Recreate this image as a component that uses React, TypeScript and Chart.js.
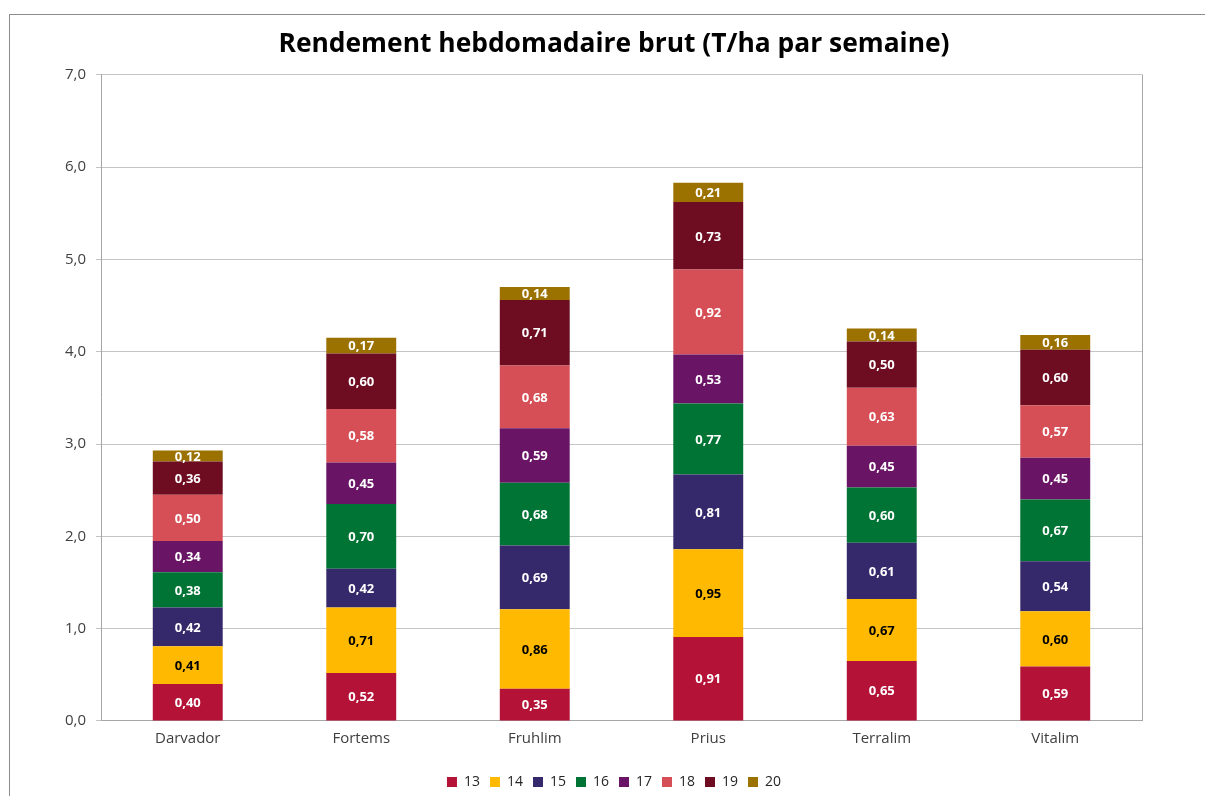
import React, { useEffect, useRef } from "react";
import { Chart, registerables } from "chart.js";

Chart.register(...registerables);

const varieties = ["Darvador", "Fortems", "Fruhlim", "Prius", "Terralim", "Vitalim"];
const weeks = ["13", "14", "15", "16", "17", "18", "19", "20"];

const week13 = [0.40, 0.52, 0.35, 0.91, 0.65, 0.59];
const week14 = [0.41, 0.71, 0.86, 0.95, 0.67, 0.60];
const week15 = [0.42, 0.42, 0.69, 0.81, 0.61, 0.54];
const week16 = [0.38, 0.70, 0.68, 0.77, 0.60, 0.67];
const week17 = [0.34, 0.45, 0.59, 0.53, 0.45, 0.45];
const week18 = [0.50, 0.58, 0.68, 0.92, 0.63, 0.57];
const week19 = [0.36, 0.60, 0.71, 0.73, 0.50, 0.60];
const week20 = [0.12, 0.17, 0.14, 0.21, 0.14, 0.16];

const seriesValues = [week13, week14, week15, week16, week17, week18, week19, week20];
const seriesColors = ["#B41237", "#FFB900", "#36296B", "#007434", "#6A1466", "#D64F56", "#6E0C22", "#9B7100"];
const labelColors = ["#ffffff", "#000000", "#ffffff", "#ffffff", "#ffffff", "#ffffff", "#ffffff", "#ffffff"];

const yTicks = [0, 1, 2, 3, 4, 5, 6, 7];

const FONT = "'Open Sans', 'Noto Sans', sans-serif";

const fmt = (v: number, d: number) => v.toFixed(d).replace(".", ",");

const valueLabels = {
  id: "valueLabels",
  afterDatasetsDraw(chart: any) {
    const ctx = chart.ctx;
    ctx.save();
    ctx.font = `bold 13px ${FONT}`;
    ctx.textAlign = "center";
    ctx.textBaseline = "middle";
    chart.data.datasets.forEach((ds: any, di: number) => {
      const meta = chart.getDatasetMeta(di);
      meta.data.forEach((bar: any, i: number) => {
        const v = ds.data[i];
        ctx.fillStyle = labelColors[di];
        ctx.fillText(fmt(v, 2), bar.x, (bar.y + bar.base) / 2 + 1);
      });
    });
    ctx.restore();
  },
};

const plotFrame = {
  id: "plotFrame",
  afterDraw(chart: any) {
    const { top, right, bottom } = chart.chartArea;
    const ctx = chart.ctx;
    ctx.save();
    ctx.strokeStyle = "#a6a6a6";
    ctx.lineWidth = 1;
    ctx.beginPath();
    ctx.moveTo(Math.round(right) + 0.5, top);
    ctx.lineTo(Math.round(right) + 0.5, bottom);
    ctx.stroke();
    ctx.restore();
  },
};

export default function App() {
  const ref = useRef<HTMLCanvasElement | null>(null);

  useEffect(() => {
    if (!ref.current) return;
    const chart = new Chart(ref.current, {
      type: "bar",
      data: {
        labels: varieties,
        datasets: weeks.map((w, i) => ({
          label: w,
          data: seriesValues[i],
          backgroundColor: seriesColors[i],
          borderWidth: 0,
          barPercentage: 0.403,
          categoryPercentage: 1,
        })),
      },
      options: {
        animation: false,
        responsive: false,
        maintainAspectRatio: false,
        layout: { padding: { left: 0, right: 0, top: 0, bottom: 0 } },
        plugins: {
          title: {
            display: true,
            text: "Rendement hebdomadaire brut (T/ha par semaine)",
            color: "#000000",
            font: { family: FONT, size: 26.4, weight: "bold" },
            padding: { top: 14, bottom: 14 },
          },
          legend: {
            position: "bottom",
            labels: {
              boxWidth: 10,
              boxHeight: 10,
              padding: 10,
              color: "#262626",
              font: { family: FONT, size: 14 },
            },
          },
          tooltip: { enabled: false },
        },
        scales: {
          x: {
            stacked: true,
            grid: { display: false, drawTicks: false },
            border: { display: true, color: "#a6a6a6", width: 1 },
            ticks: { color: "#404040", font: { family: FONT, size: 15 }, padding: 9 },
            afterFit: (s: any) => { s.height = 44; },
          },
          y: {
            stacked: true,
            min: 0,
            max: 7,
            afterBuildTicks: (s: any) => { s.ticks = yTicks.map((v) => ({ value: v })); },
            grid: { color: "#c4c4c4", lineWidth: 1, tickLength: 5, drawTicks: true },
            border: { display: true, color: "#a6a6a6", width: 1 },
            ticks: {
              color: "#404040",
              font: { family: FONT, size: 15 },
              padding: 10,
              callback: (v: any) => fmt(Number(v), 1),
            },
            afterFit: (s: any) => { s.width = 91; },
          },
          yRight: {
            position: "right",
            display: true,
            min: 0,
            max: 7,
            grid: { display: false, drawTicks: false },
            border: { display: false },
            ticks: { display: false },
            afterFit: (s: any) => { s.width = 76; },
          },
        },
      },
      plugins: [valueLabels, plotFrame],
    });
    return () => chart.destroy();
  }, []);

  return (
    <div style={{ position: "fixed", inset: 0, overflow: "hidden", background: "#ffffff" }}>
      <div
        style={{
          position: "absolute",
          left: 9,
          top: 14,
          width: 1212,
          height: 800,
          borderTop: "1px solid #8c8c8c",
          borderLeft: "1px solid #8c8c8c",
          boxSizing: "border-box",
        }}
      >
        <canvas ref={ref} width={1208} height={784} style={{ display: "block" }} />
      </div>
    </div>
  );
}
